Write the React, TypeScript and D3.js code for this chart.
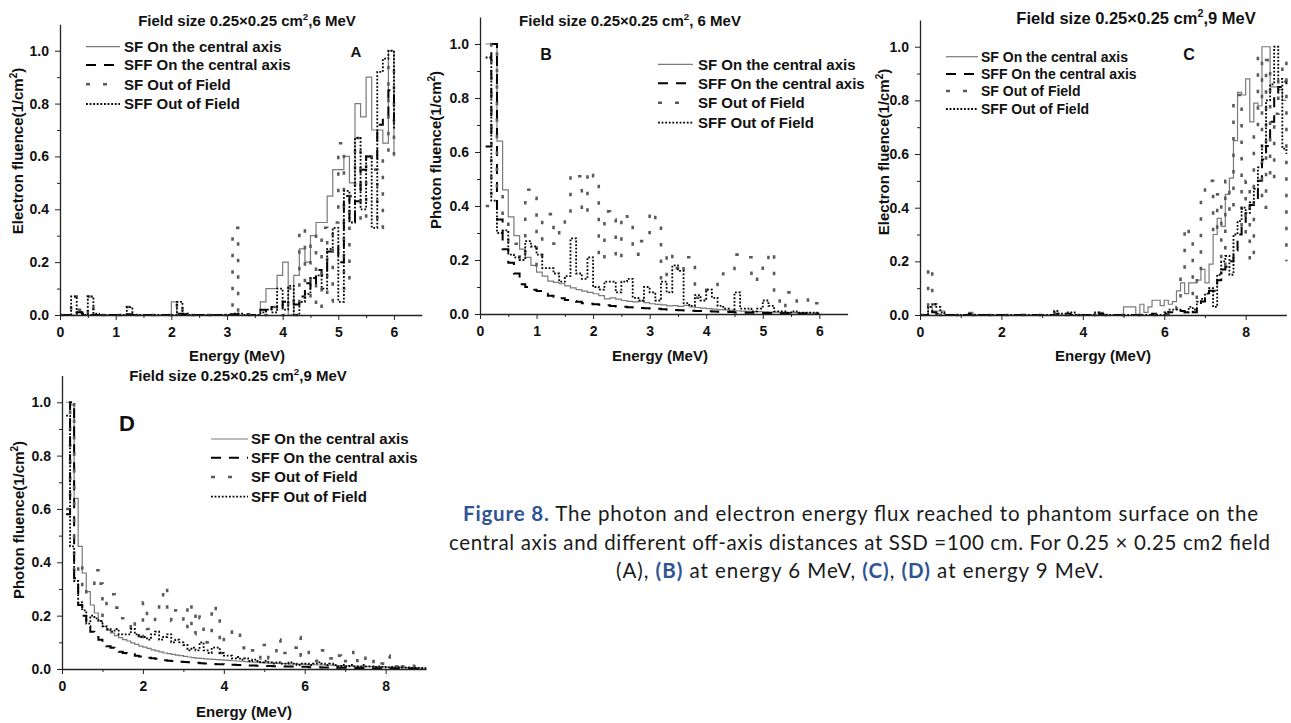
import React, { useEffect, useRef } from "react";
import * as d3 from "d3";

const BIN = 0.1; // MeV per histogram bin, last value = level at right edge

const seriesNames = [
  "SF On the central axis",
  "SFF On the central axis",
  "SF Out of Field",
  "SFF Out of Field",
];

const yTicks = [0, 0.2, 0.4, 0.6, 0.8, 1.0];
const yMinor = [0.1, 0.3, 0.5, 0.7, 0.9];
const xTicks6 = [0, 1, 2, 3, 4, 5, 6];
const xMinor6 = [0.5, 1.5, 2.5, 3.5, 4.5, 5.5];
const xTicks9 = [0, 2, 4, 6, 8];
const xMinor9 = [1, 3, 5, 7];

// A: electron fluence, 6 MeV (bins from 0 MeV)
const aSfCentral = [
  0, 0, 0, 0.01, 0, 0, 0, 0, 0, 0,
  0, 0, 0, 0, 0, 0, 0, 0, 0, 0,
  0.05, 0, 0, 0, 0, 0, 0, 0, 0, 0,
  0, 0, 0, 0, 0, 0, 0.05, 0.1, 0.1, 0.15,
  0.2, 0, 0.15, 0.25, 0.2, 0.3, 0.35, 0.35, 0.45, 0.55,
  0.55, 0.6, 0.5, 0.8, 0.75, 0.9, 0.7, 0.7, 0.65, 1.0,
  0.6,
];
const aSffCentral = [
  0, 0, 0.005, 0.01, 0.005, 0, 0, 0, 0, 0,
  0, 0, 0.003, 0, 0, 0, 0, 0, 0, 0,
  0, 0.005, 0.003, 0, 0, 0, 0, 0, 0, 0,
  0.003, 0.003, 0.005, 0.003, 0, 0, 0.02, 0.01, 0.03, 0.02,
  0.05, 0.05, 0.04, 0.07, 0.12, 0.1, 0.17, 0.15, 0.24, 0.26,
  0.2, 0.45, 0.35, 0.43, 0.55, 0.6, 0.59, 0.72, 0.75, 0.85,
  0.7,
];
const aSfOut = [
  0, 0, 0.07, 0.02, 0, 0.07, 0, 0, 0, 0,
  0, 0, 0.03, 0, 0, 0, 0, 0, 0, 0,
  0, 0.05, 0, 0, 0, 0, 0, 0, 0, 0,
  0, 0.33, 0, 0, 0, 0, 0, 0, 0.03, 0,
  0, 0.1, 0, 0.33, 0.05, 0.3, 0.02, 0.33, 0.05, 0.35,
  0.65, 0.1, 0.45, 0.67, 0.35, 0.6, 0.55, 0.33, 0.6, 0.95,
  0.6,
];
const aSffOut = [
  0, 0, 0.07, 0.01, 0, 0.07, 0.005, 0, 0, 0,
  0, 0, 0.03, 0, 0, 0, 0, 0, 0, 0,
  0, 0.05, 0.005, 0, 0, 0, 0, 0, 0, 0,
  0, 0.005, 0.005, 0, 0, 0, 0.01, 0.02, 0.01, 0.1,
  0.02, 0.11, 0, 0.05, 0.08, 0.14, 0.15, 0.1, 0.25, 0.33,
  0.05, 0.47, 0.35, 0.67, 0.4, 0.6, 0.33, 0.92, 0.97, 1.0,
  0.7,
];

// B: photon fluence, 6 MeV (bins from 0.1 MeV)
const bSfCentral = [
  1.0, 1.0, 0.64, 0.46, 0.36, 0.29, 0.24, 0.21, 0.18,
  0.155, 0.14, 0.122, 0.117, 0.112, 0.104, 0.097, 0.09, 0.085, 0.08,
  0.075, 0.068, 0.056, 0.06, 0.055, 0.05, 0.047, 0.045, 0.048, 0.042,
  0.038, 0.036, 0.034, 0.03, 0.031, 0.028, 0.032, 0.026, 0.024, 0.022,
  0.02, 0.018, 0.016, 0.015, 0.014, 0.012, 0.011, 0.01, 0.009, 0.009,
  0.008, 0.007, 0.007, 0.006, 0.005, 0.005, 0.004, 0.004, 0.003, 0.003,
  0.003,
];
const bSffCentral = [
  0.62, 1.0, 0.35, 0.24, 0.19, 0.15, 0.11, 0.1, 0.09,
  0.085, 0.075, 0.068, 0.064, 0.058, 0.052, 0.048, 0.045, 0.04, 0.038,
  0.036, 0.034, 0.032, 0.03, 0.028, 0.027, 0.025, 0.024, 0.022, 0.021,
  0.02, 0.019, 0.018, 0.016, 0.015, 0.014, 0.013, 0.012, 0.011, 0.011,
  0.01, 0.009, 0.008, 0.008, 0.007, 0.006, 0.006, 0.005, 0.005, 0.004,
  0.004, 0.004, 0.003, 0.003, 0.003, 0.002, 0.002, 0.002, 0.002, 0.001,
  0.001,
];
const bSfOut = [
  0.4, 1.0, 0.45, 0.35, 0.25, 0.26, 0.2, 0.46, 0.43,
  0.18, 0.36, 0.37, 0.26, 0.31, 0.35, 0.52, 0.51, 0.37, 0.53,
  0.51, 0.2, 0.38, 0.35, 0.2, 0.37, 0.36, 0.22, 0.27, 0.3,
  0.38, 0.33, 0.12, 0.23, 0.17, 0.15, 0.21, 0.21, 0.06, 0.08,
  0.09, 0.09, 0.12, 0.15, 0.15, 0.22, 0.21, 0.21, 0.12, 0.14,
  0.18, 0.23, 0.06, 0.02, 0.08, 0.08, 0.04, 0.05, 0.06, 0.04,
  0.04,
];
const bSffOut = [
  0.95, 0.42, 0.3, 0.31, 0.22, 0.21, 0.2, 0.27, 0.25,
  0.22, 0.17, 0.17, 0.15, 0.12, 0.14, 0.28, 0.15, 0.13, 0.21,
  0.1, 0.09, 0.12, 0.12, 0.08, 0.12, 0.13, 0.06, 0.05, 0.1,
  0.08, 0.05, 0.12, 0.08, 0.18, 0.16, 0.04, 0.03, 0.07, 0.05,
  0.09, 0.06, 0.03, 0.02, 0.01, 0.08, 0.02, 0.02, 0.01, 0.02,
  0.05, 0.03, 0.01, 0.01, 0.005, 0.01, 0.005, 0.005, 0.005, 0.005,
  0.005,
];

// C: electron fluence, 9 MeV (bins from 0 MeV)
const cSfCentral = [
  0, 0, 0.03, 0.015, 0.015, 0.015, 0, 0, 0, 0,
  0, 0, 0.01, 0, 0, 0, 0, 0, 0, 0,
  0, 0, 0, 0, 0, 0.002, 0, 0, 0, 0,
  0, 0, 0, 0, 0, 0, 0, 0, 0, 0,
  0, 0, 0, 0, 0.01, 0, 0, 0, 0, 0,
  0.03, 0.03, 0.03, 0, 0.04, 0.01, 0.03, 0.055, 0.055, 0.035,
  0.055, 0.04, 0.05, 0.09, 0.12, 0.08, 0.12, 0.12, 0.13, 0.17,
  0.12, 0.19, 0.3, 0.36, 0.33, 0.45, 0.51, 0.65, 0.83, 0.82,
  0.88, 0.72, 0.79, 0.78, 1.0, 1.0, 0.85, 0.85, 0.84, 0.8,
  0.8,
];
const cSffCentral = [
  0, 0, 0.02, 0.01, 0.005, 0, 0, 0, 0, 0,
  0, 0, 0.005, 0, 0, 0, 0, 0, 0, 0,
  0, 0, 0, 0, 0, 0, 0, 0, 0, 0,
  0, 0, 0, 0.005, 0, 0, 0.005, 0, 0, 0,
  0, 0, 0, 0, 0.005, 0, 0, 0, 0, 0,
  0, 0, 0, 0, 0, 0, 0, 0.005, 0, 0,
  0.005, 0.01, 0.01, 0.01, 0.015, 0.01, 0.02, 0.01, 0.04, 0.05,
  0.07, 0.09, 0.09, 0.13, 0.17, 0.18, 0.2, 0.24, 0.3, 0.34,
  0.38, 0.41, 0.42, 0.5, 0.58, 0.63, 0.72, 0.82, 0.85, 0.87,
  0.86,
];
const cSfOut = [
  0, 0, 0.18, 0.04, 0.01, 0, 0, 0, 0, 0,
  0, 0, 0, 0, 0, 0, 0, 0, 0, 0,
  0, 0, 0, 0, 0, 0, 0, 0, 0, 0,
  0, 0, 0, 0.01, 0, 0, 0, 0.01, 0, 0,
  0, 0, 0, 0.01, 0, 0, 0, 0, 0, 0,
  0, 0, 0, 0, 0, 0, 0, 0, 0, 0,
  0.01, 0, 0.01, 0.03, 0.15, 0.33, 0.28, 0.05, 0.15, 0.45,
  0.5, 0.5, 0.3, 0.45, 0.15, 0.5, 0.38, 0.82, 0.82, 0.3,
  0.5, 0.2, 0.68, 0.97, 0.4, 0.95, 0.5, 0.75, 0.9, 0.95,
  0.2,
];
const cSffOut = [
  0, 0, 0.03, 0.04, 0.03, 0.01, 0, 0, 0, 0,
  0, 0, 0, 0, 0, 0, 0, 0, 0, 0,
  0, 0, 0, 0, 0, 0, 0, 0, 0, 0,
  0, 0, 0, 0.015, 0.005, 0.005, 0.01, 0.01, 0, 0,
  0, 0, 0, 0.01, 0.005, 0, 0, 0, 0, 0,
  0, 0, 0, 0, 0, 0, 0, 0, 0, 0,
  0.01, 0.02, 0.02, 0.02, 0.015, 0.01, 0.03, 0.02, 0.05, 0.06,
  0.08, 0.1, 0.03, 0.15, 0.2, 0.22, 0.15, 0.3, 0.35, 0.4,
  0.38, 0.42, 0.47, 0.55, 0.63, 0.8, 0.86, 1.0, 0.88, 0.62,
  0.6,
];

// D: photon fluence, 9 MeV (bins from 0.1 MeV)
const dSfCentral = [
  1.0, 0.99, 0.64, 0.46, 0.36, 0.29, 0.24, 0.21, 0.18,
  0.16, 0.145, 0.135, 0.125, 0.118, 0.11, 0.105, 0.098, 0.092, 0.086,
  0.082, 0.077, 0.072, 0.068, 0.064, 0.06, 0.058, 0.055, 0.052, 0.05,
  0.047, 0.045, 0.043, 0.041, 0.04, 0.038, 0.037, 0.036, 0.035, 0.034,
  0.033, 0.032, 0.031, 0.03, 0.029, 0.028, 0.027, 0.026, 0.025, 0.024,
  0.023, 0.022, 0.022, 0.021, 0.02, 0.02, 0.019, 0.019, 0.018, 0.018,
  0.017, 0.016, 0.016, 0.015, 0.015, 0.014, 0.014, 0.013, 0.013, 0.012,
  0.012, 0.011, 0.011, 0.01, 0.01, 0.009, 0.009, 0.009, 0.008, 0.008,
  0.007, 0.007, 0.006, 0.006, 0.005, 0.005, 0.004, 0.004, 0.003, 0.003,
  0.002,
];
const dSffCentral = [
  0.58, 1.0, 0.34, 0.24, 0.2, 0.16, 0.14, 0.12, 0.11,
  0.095, 0.085, 0.08, 0.075, 0.065, 0.06, 0.058, 0.055, 0.05, 0.047,
  0.045, 0.042, 0.04, 0.038, 0.035, 0.033, 0.031, 0.03, 0.028, 0.027,
  0.026, 0.025, 0.024, 0.023, 0.022, 0.021, 0.02, 0.019, 0.018, 0.018,
  0.017, 0.016, 0.016, 0.015, 0.015, 0.014, 0.013, 0.013, 0.012, 0.012,
  0.011, 0.011, 0.01, 0.01, 0.01, 0.009, 0.009, 0.009, 0.008, 0.008,
  0.008, 0.007, 0.007, 0.007, 0.006, 0.006, 0.006, 0.006, 0.005, 0.005,
  0.005, 0.005, 0.004, 0.004, 0.004, 0.004, 0.003, 0.003, 0.003, 0.003,
  0.003, 0.002, 0.002, 0.002, 0.002, 0.002, 0.002, 0.001, 0.001, 0.001,
  0.001,
];
const dSfOut = [
  0.6, 1.0, 0.35, 0.4, 0.28, 0.3, 0.32, 0.37, 0.32,
  0.2, 0.28, 0.28, 0.23, 0.19, 0.19, 0.19, 0.14, 0.17, 0.1,
  0.25, 0.15, 0.15, 0.22, 0.27, 0.31, 0.2, 0.18, 0.22, 0.21,
  0.15, 0.25, 0.13, 0.22, 0.19, 0.1, 0.1, 0.24, 0.2, 0.06,
  0.14, 0.14, 0.13, 0.14, 0.08, 0.07, 0.08, 0.07, 0.04, 0.09,
  0.09, 0.04, 0.04, 0.11, 0.09, 0.06, 0.07, 0.08, 0.12, 0.05,
  0.07, 0.06, 0.03, 0.07, 0.07, 0.06, 0.04, 0.03, 0.05, 0.02,
  0.03, 0.04, 0.07, 0.03, 0.02, 0.05, 0.04, 0.02, 0.01, 0.02,
  0.05, 0.01, 0.01, 0.03, 0.01, 0.02, 0.02, 0.01, 0.01, 0.01,
  0.005,
];
const dSffOut = [
  0.95, 0.46, 0.33, 0.25, 0.22, 0.17, 0.2, 0.19, 0.18,
  0.16, 0.15, 0.14, 0.15, 0.13, 0.13, 0.13, 0.15, 0.13, 0.12,
  0.12, 0.11, 0.13, 0.14, 0.11, 0.12, 0.13, 0.1, 0.11, 0.1,
  0.09, 0.07, 0.08, 0.07, 0.1, 0.07, 0.06, 0.08, 0.08, 0.06,
  0.05, 0.05, 0.04, 0.045, 0.035, 0.04, 0.03, 0.035, 0.03, 0.025,
  0.03, 0.025, 0.02, 0.025, 0.02, 0.02, 0.025, 0.02, 0.015, 0.02,
  0.02, 0.015, 0.02, 0.025, 0.02, 0.015, 0.02, 0.015, 0.01, 0.015,
  0.01, 0.015, 0.01, 0.01, 0.015, 0.01, 0.01, 0.008, 0.01, 0.008,
  0.006, 0.008, 0.006, 0.006, 0.005, 0.006, 0.004, 0.005, 0.004, 0.003,
  0.003,
];

const styles = [
  { stroke: "#7a7a7a", width: 1.2, dash: "none", legDash: "none" },
  { stroke: "#000", width: 2, dash: "10,8", legDash: "10,8" },
  { stroke: "#5a5a5a", width: 2.6, dash: "3.5,13", legDash: "4,13" },
  { stroke: "#000", width: 1.8, dash: "1.8,1.8", legDash: "1.8,1.8" },
];

const FONT = "'Liberation Sans', Arial, sans-serif";

type PanelCfg = {
  tag: string;
  series: number[][];
  xStart: number;
  xMax: number;
  xTicks: number[];
  xMinor: number[];
  left: number;
  right: number;
  top: number;
  bottom: number;
  titleHead: string;
  titleTail: string;
  titleX: number;
  titleY: number;
  titleSize: number;
  yLabel: string;
  yLabelX: number;
  yLabelY: number;
  xLabelX: number;
  xLabelY: number;
  legX0: number;
  legX1: number;
  legTx: number;
  legRows: number[];
  legSize: number;
  tagX: number;
  tagY: number;
  tagSize: number;
};

const panels: PanelCfg[] = [
  {
    tag: "A", series: [aSfCentral, aSffCentral, aSfOut, aSffOut],
    xStart: 0, xMax: 6.5, xTicks: xTicks6, xMinor: xMinor6,
    left: 60, right: 421.8, top: 24.3, bottom: 315,
    titleHead: "Field size 0.25×0.25 cm", titleTail: ",6 MeV", titleX: 247, titleY: 26, titleSize: 15,
    yLabel: "Electron fluence(1/cm", yLabelX: 23, yLabelY: 151,
    xLabelX: 237, xLabelY: 361,
    legX0: 86, legX1: 120, legTx: 124, legRows: [46.7, 65, 84.3, 104], legSize: 15,
    tagX: 356, tagY: 57, tagSize: 15,
  },
  {
    tag: "B", series: [bSfCentral, bSffCentral, bSfOut, bSffOut],
    xStart: 0.1, xMax: 6.5, xTicks: xTicks6, xMinor: xMinor6,
    left: 480, right: 847.6, top: 17, bottom: 314,
    titleHead: "Field size 0.25×0.25 cm", titleTail: ", 6 MeV", titleX: 630, titleY: 26, titleSize: 15,
    yLabel: "Photon fluence(1/cm", yLabelX: 441, yLabelY: 150,
    xLabelX: 660, xLabelY: 361,
    legX0: 658, legX1: 693, legTx: 698, legRows: [64.3, 83.3, 102.7, 122.7], legSize: 15,
    tagX: 546, tagY: 60, tagSize: 16,
  },
  {
    tag: "C", series: [cSfCentral, cSffCentral, cSfOut, cSffOut],
    xStart: 0, xMax: 9, xTicks: xTicks9, xMinor: xMinor9,
    left: 920, right: 1286.4, top: 19.9, bottom: 315,
    titleHead: "Field size 0.25×0.25 cm", titleTail: ",9 MeV", titleX: 1136, titleY: 24, titleSize: 16.5,
    yLabel: "Electron fluence(1/cm", yLabelX: 889, yLabelY: 152,
    xLabelX: 1103, xLabelY: 361,
    legX0: 946, legX1: 978, legTx: 981, legRows: [56.7, 74, 91, 109], legSize: 14,
    tagX: 1189, tagY: 60, tagSize: 16,
  },
  {
    tag: "D", series: [dSfCentral, dSffCentral, dSfOut, dSffOut],
    xStart: 0.1, xMax: 9, xTicks: xTicks9, xMinor: xMinor9,
    left: 62, right: 426.1, top: 375.6, bottom: 669,
    titleHead: "Field size 0.25×0.25 cm", titleTail: ",9 MeV", titleX: 238, titleY: 381, titleSize: 15,
    yLabel: "Photon fluence(1/cm", yLabelX: 24, yLabelY: 520,
    xLabelX: 244, xLabelY: 717,
    legX0: 211, legX1: 248, legTx: 251, legRows: [439, 457.7, 477, 496.7], legSize: 15,
    tagX: 127, tagY: 431, tagSize: 22,
  },
];

function Panel({ cfg }: { cfg: PanelCfg }) {
  const ref = useRef<SVGGElement>(null);

  useEffect(() => {
    const g = d3.select(ref.current);
    g.selectAll("*").remove();

    const x = d3.scaleLinear().domain([0, cfg.xMax]).range([cfg.left, cfg.right]);
    const y = d3.scaleLinear().domain([0, 1.1]).range([cfg.bottom, cfg.top]);

    const step = d3
      .line<number>()
      .x((_, i) => x(cfg.xStart + i * BIN))
      .y((d) => y(d))
      .curve(d3.curveStepAfter);

    cfg.series.forEach((vals, k) => {
      g.append("path")
        .attr("d", step(vals))
        .attr("fill", "none")
        .attr("stroke", styles[k].stroke)
        .attr("stroke-width", styles[k].width)
        .attr("stroke-dasharray", styles[k].dash);
    });

    // minor ticks
    g.append("g")
      .attr("transform", `translate(0,${cfg.bottom})`)
      .call(d3.axisBottom(x).tickValues(cfg.xMinor).tickSize(3).tickFormat(() => ""))
      .call((s) => s.select(".domain").remove());
    g.append("g")
      .attr("transform", `translate(${cfg.left},0)`)
      .call(d3.axisLeft(y).tickValues(yMinor).tickSize(3).tickFormat(() => ""))
      .call((s) => s.select(".domain").remove());

    // major axes
    const xa = g
      .append("g")
      .attr("transform", `translate(0,${cfg.bottom})`)
      .call(
        d3.axisBottom(x).tickValues(cfg.xTicks).tickSize(5).tickSizeOuter(0).tickPadding(7)
          .tickFormat(d3.format("d") as any)
      );
    const ya = g
      .append("g")
      .attr("transform", `translate(${cfg.left},0)`)
      .call(
        d3.axisLeft(y).tickValues(yTicks).tickSize(5).tickSizeOuter(0).tickPadding(6)
          .tickFormat(d3.format(".1f") as any)
      );
    [xa, ya].forEach((a) => {
      a.attr("font-family", FONT).attr("font-size", 14).attr("font-weight", "bold");
      a.select(".domain").attr("stroke-width", 1.3);
    });
    g.selectAll(".tick line").attr("stroke", "#222");
    g.selectAll(".tick text").attr("fill", "#111");
    g.selectAll(".domain").attr("stroke", "#222");
  }, [cfg]);

  return (
    <g fontFamily={FONT} fontWeight="bold" fill="#111">
      <g ref={ref} />
      <text x={cfg.titleX} y={cfg.titleY} textAnchor="middle" fontSize={cfg.titleSize}>
        {cfg.titleHead}
        <tspan dy={-cfg.titleSize * 0.4} fontSize={cfg.titleSize * 0.65}>2</tspan>
        <tspan dy={cfg.titleSize * 0.4}>{cfg.titleTail}</tspan>
      </text>
      <text
        transform={`translate(${cfg.yLabelX},${cfg.yLabelY}) rotate(-90)`}
        textAnchor="middle"
        fontSize={15}
      >
        {cfg.yLabel}
        <tspan dy={-6} fontSize={10}>2</tspan>
        <tspan dy={6}>)</tspan>
      </text>
      <text x={cfg.xLabelX} y={cfg.xLabelY} textAnchor="middle" fontSize={15}>
        Energy (MeV)
      </text>
      <text x={cfg.tagX} y={cfg.tagY} textAnchor="middle" fontSize={cfg.tagSize}>
        {cfg.tag}
      </text>
      {seriesNames.map((name, k) => (
        <g key={name}>
          <line
            x1={cfg.legX0}
            x2={k === 2 ? cfg.legX0 + 22 : cfg.legX1}
            y1={cfg.legRows[k]}
            y2={cfg.legRows[k]}
            stroke={styles[k].stroke}
            strokeWidth={styles[k].width}
            strokeDasharray={styles[k].legDash}
          />
          <text x={cfg.legTx} y={cfg.legRows[k] + cfg.legSize * 0.36} fontSize={cfg.legSize}>
            {name}
          </text>
        </g>
      ))}
    </g>
  );
}

const BLUE = "#2f5496";
const CAP_FONT = "Lato, 'Open Sans', sans-serif";

function Caption() {
  return (
    <g fontFamily={CAP_FONT} fontSize={20.5} fill="#1a1a1a">
      <text x={463} y={521} textLength={795} lengthAdjust="spacing">
        <tspan fill={BLUE} fontWeight="bold">Figure 8.</tspan>
        <tspan> The photon and electron energy flux reached to phantom surface on the</tspan>
      </text>
      <text x={449} y={550} textLength={821} lengthAdjust="spacing">
        central axis and different off-axis distances at SSD =100 cm. For 0.25 × 0.25 cm2 field
      </text>
      <text x={616} y={578} textLength={487} lengthAdjust="spacing">
        <tspan>(A), </tspan>
        <tspan fill={BLUE} fontWeight="bold">(B)</tspan>
        <tspan> at energy 6 MeV, </tspan>
        <tspan fill={BLUE} fontWeight="bold">(C)</tspan>
        <tspan>, </tspan>
        <tspan fill={BLUE} fontWeight="bold">(D)</tspan>
        <tspan> at energy 9 MeV.</tspan>
      </text>
    </g>
  );
}

export default function App() {
  return (
    <div style={{ position: "absolute", left: 0, top: 0, background: "#fff" }}>
      <svg width={1291} height={723} viewBox="0 0 1291 723">
        <rect width={1291} height={723} fill="#fff" />
        {panels.map((p) => (
          <Panel key={p.tag} cfg={p} />
        ))}
        <Caption />
      </svg>
    </div>
  );
}
